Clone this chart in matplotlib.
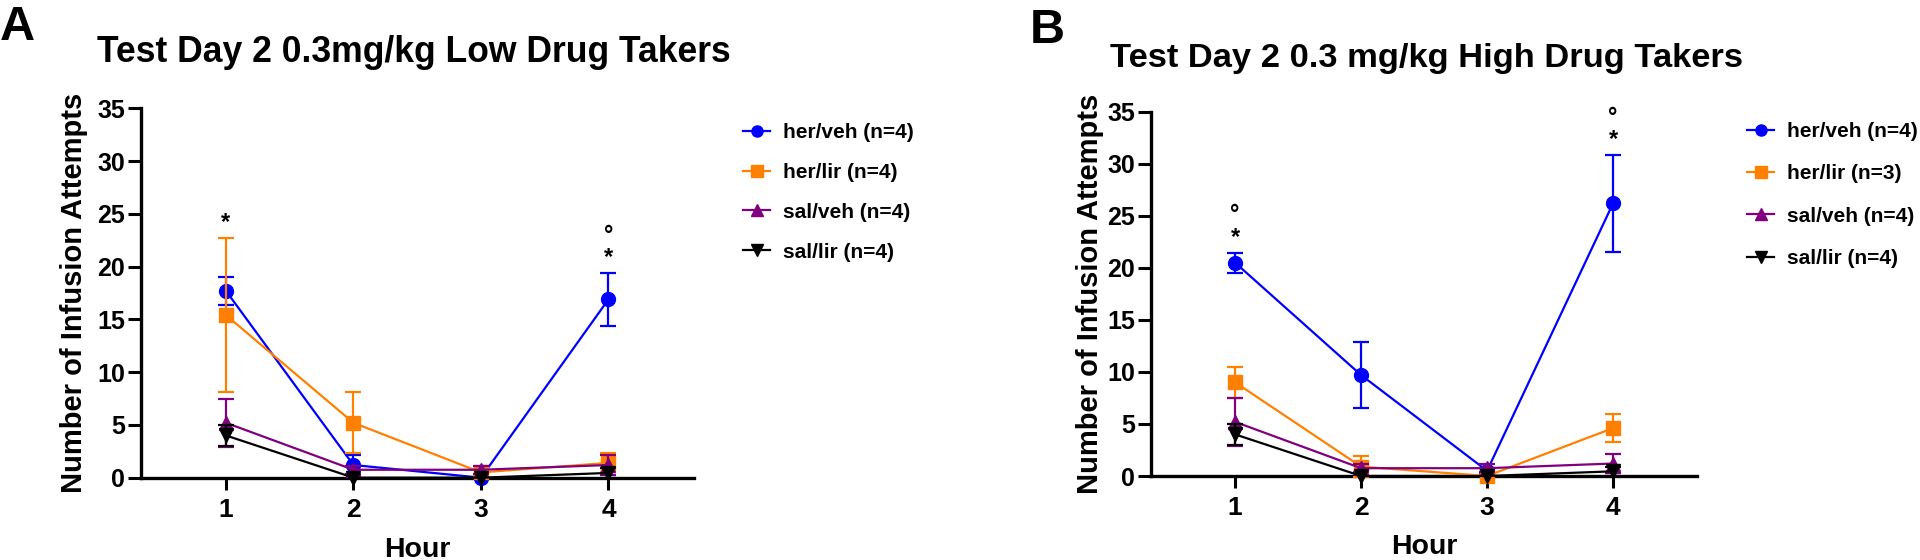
import numpy as np
import matplotlib
matplotlib.use("Agg")
import matplotlib.pyplot as plt

plt.rcParams['font.family'] = ['Liberation Sans', 'DejaVu Sans']
plt.rcParams['font.weight'] = 'bold'

# data (mean +/- SEM per hour)
hours = [1, 2, 3, 4]

her_veh_low = [17.7, 1.2, 0.0, 16.9]
her_veh_low_sem = [1.35, 0.95, 0.0, 2.5]
her_lir_low = [15.4, 5.2, 0.5, 1.4]
her_lir_low_sem = [7.3, 2.9, 0.3, 0.9]

her_veh_high = [20.5, 9.7, 0.5, 26.2]
her_veh_high_sem = [0.95, 3.15, 0.3, 4.65]
her_lir_high = [9.0, 0.9, 0.0, 4.6]
her_lir_high_sem = [1.5, 1.0, 0.0, 1.35]

sal_veh = [5.2, 0.75, 0.75, 1.2]
sal_veh_sem = [2.3, 0.4, 0.4, 0.93]
sal_lir = [4.0, 0.0, 0.0, 0.45]
sal_lir_sem = [1.0, 0.0, 0.0, 0.45]

labels_low = ['her/veh (n=4)', 'her/lir (n=4)', 'sal/veh (n=4)', 'sal/lir (n=4)']
labels_high = ['her/veh (n=4)', 'her/lir (n=3)', 'sal/veh (n=4)', 'sal/lir (n=4)']

# significance marks: hours with '*' and with '°'
star_low = [1, 4]
circ_low = [4]
star_high = [1, 4]
circ_high = [1, 4]

colors = ['#0000FF', '#FF8000', '#800080', '#000000']
markers = ['o', 's', '^', 'v']

fig = plt.figure(figsize=(19.2, 5.6), dpi=100)
axA = fig.add_axes([0.0734, 0.147, 0.2878, 0.6596])
axB = fig.add_axes([0.5995, 0.150, 0.2844, 0.6505])


def draw_panel(ax, means, sems, labels, stars, circs, ylab_x, leg_anchor, leg_space):
    for i, (m, s) in enumerate(zip(means, sems)):
        m = np.array(m)
        s = np.array(s)
        ok = s > 0
        eb = ax.errorbar(np.array(hours)[ok], m[ok], yerr=s[ok], fmt='none',
                         ecolor=colors[i], elinewidth=1.6, capsize=5.5,
                         capthick=1.6, zorder=2 + i)
        for art in eb.lines[1] + eb.lines[2]:
            art.set_clip_on(False)
        ax.plot(hours, m, color=colors[i], marker=markers[i], ms=10,
                lw=1.6, label=labels[i], zorder=2.5 + i, clip_on=False)

    tops = np.max([np.array(m) + np.array(s) for m, s in zip(means, sems)], axis=0)
    for h in stars:
        ax.annotate('*', (h, tops[h - 1]), xytext=(0, 3), textcoords='offset points',
                    ha='center', va='bottom', fontsize=17, annotation_clip=False)
    for h in circs:
        ax.annotate('°', (h, tops[h - 1]), xytext=(0, 19), textcoords='offset points',
                    ha='center', va='bottom', fontsize=17, annotation_clip=False)

    ax.set_xlim(1 / 3, 14 / 3)
    ax.set_ylim(0, 35)
    ax.set_xticks(hours)
    ax.set_yticks(range(0, 36, 5))
    for sp in ['top', 'right']:
        ax.spines[sp].set_visible(False)
    for sp in ['left', 'bottom']:
        ax.spines[sp].set_linewidth(2.4)
    ax.tick_params(axis='y', labelsize=18, length=9.4, width=2.2, pad=2)
    ax.tick_params(axis='x', labelsize=19, length=8.6, width=2.2, pad=6)
    ax.set_ylabel('Number of Infusion Attempts', fontsize=21, fontweight='bold')
    ax.yaxis.set_label_coords(ylab_x, 0.5)
    ax.set_xlabel('Hour', fontsize=20.5, fontweight='bold')
    ax.xaxis.set_label_coords(0.5, -0.16)

    ax.legend(loc='upper left', bbox_to_anchor=leg_anchor, bbox_transform=fig.transFigure,
              frameon=False, fontsize=15, borderpad=0, borderaxespad=0,
              handlelength=1.3, handletextpad=0.6, labelspacing=leg_space, markerscale=0.8)


draw_panel(axA, [her_veh_low, her_lir_low, sal_veh, sal_lir],
           [her_veh_low_sem, her_lir_low_sem, sal_veh_sem, sal_lir_sem],
           labels_low, star_low, circ_low, -0.096, (743 / 1920, 1 - 123 / 560), 1.0)
draw_panel(axB, [her_veh_high, her_lir_high, sal_veh, sal_lir],
           [her_veh_high_sem, her_lir_high_sem, sal_veh_sem, sal_lir_sem],
           labels_high, star_high, circ_high, -0.086, (1747 / 1920, 1 - 122 / 560), 1.12)

fig.text(97 / 1920, 1 - 61.7 / 560, 'Test Day 2 0.3mg/kg Low Drug Takers',
         fontsize=25.6, fontweight='bold', ha='left', va='baseline')
fig.text(1110 / 1920, 1 - 66.7 / 560, 'Test Day 2 0.3 mg/kg High Drug Takers',
         fontsize=24.8, fontweight='bold', ha='left', va='baseline')
fig.text(0 / 1920, 1 - 40 / 560, 'A', fontsize=35, fontweight='bold', ha='left', va='baseline')
fig.text(1030 / 1920, 1 - 42.7 / 560, 'B', fontsize=35, fontweight='bold', ha='left', va='baseline')

fig.savefig('out.png', dpi=100)
